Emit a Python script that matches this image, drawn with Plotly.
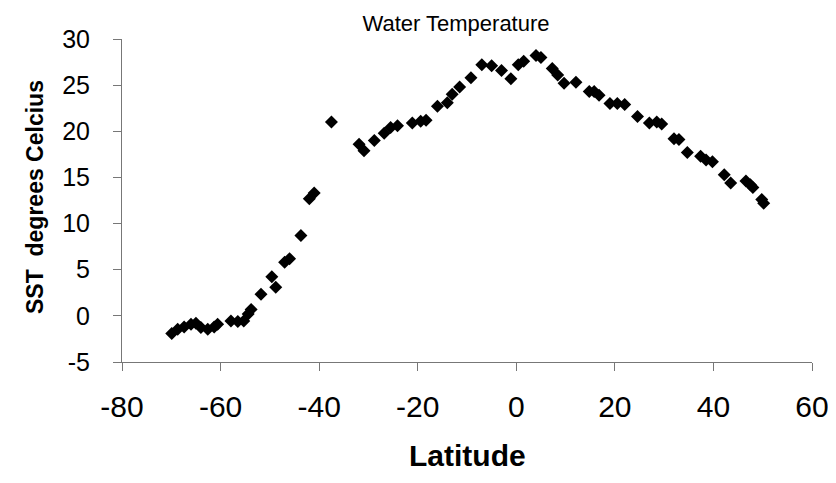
import plotly.graph_objects as go

latitude = [-69.9, -68.7, -67.4, -66.0, -65.0, -64.0, -62.6, -61.3, -60.6,
            -57.9, -56.5, -55.3, -54.4, -53.8, -51.8, -49.6, -48.8, -47.0, -46.0,
            -43.7, -42.0, -41.0, -37.5,
            -31.9, -30.9, -28.8, -26.8, -25.5, -24.1, -21.1, -19.4, -18.3, -16.0,
            -14.0, -13.0, -11.5, -9.2, -7.0, -5.0, -3.0, -1.1, 0.4, 1.5, 4.0, 5.0,
            7.3, 8.4, 9.7, 12.1, 14.8, 15.8, 16.8, 19.0, 20.5, 22.0, 24.6, 27.0,
            28.5, 29.5, 32.0, 33.0, 34.7, 37.4, 38.5, 39.8, 42.2, 43.5, 46.6, 47.5,
            48.0, 49.8, 50.2]
sst = [-1.9, -1.45, -1.2, -0.9, -0.8, -1.25, -1.45, -1.2, -0.9,
       -0.55, -0.6, -0.55, 0.2, 0.7, 2.35, 4.25, 3.1, 5.8, 6.2,
       8.7, 12.7, 13.3, 21.0,
       18.6, 17.9, 19.0, 19.8, 20.4, 20.6, 20.9, 21.1, 21.2, 22.7,
       23.1, 24.0, 24.8, 25.8, 27.2, 27.1, 26.6, 25.7, 27.2, 27.6, 28.2, 28.0,
       26.8, 26.1, 25.2, 25.3, 24.3, 24.3, 23.9, 23.0, 23.0, 22.9, 21.6, 20.9,
       21.0, 20.8, 19.2, 19.1, 17.7, 17.3, 16.9, 16.7, 15.3, 14.4, 14.6, 14.2,
       13.9, 12.6, 12.2]

x_ticks = [-80, -60, -40, -20, 0, 20, 40, 60]
y_ticks = [-5, 0, 5, 10, 15, 20, 25, 30]

FONT = "Liberation Sans, Arial, sans-serif"

# page has an 8px body margin: figure origin is at (8, 8) in the window
W, H = 828, 475
L, T, PW, PH = 114, 31, 690, 323

fig = go.Figure()
fig.add_trace(go.Scatter(
    x=latitude, y=sst, mode="markers",
    marker=dict(symbol="diamond", size=10, color="black",
                line=dict(width=0)),
    showlegend=False,
))

axis_common = dict(
    showgrid=False, zeroline=False, showline=True, automargin=False,
    linecolor="#777777", linewidth=1,
    ticks="outside", ticklen=8, tickcolor="#777777", tickwidth=1,
)

fig.update_xaxes(range=[-80, 60], tickvals=x_ticks,
                 ticktext=[str(v) for v in x_ticks],
                 tickfont=dict(family=FONT, size=30, color="black"),
                 ticklabelstandoff=10, **axis_common)
fig.update_yaxes(range=[-5, 30], tickvals=y_ticks,
                 ticktext=[str(v) for v in y_ticks],
                 tickfont=dict(family=FONT, size=25, color="black"),
                 ticklabelstandoff=18, **axis_common)

fig.update_layout(
    width=W, height=H,
    margin=dict(l=L, r=W - L - PW, t=T, b=H - T - PH),
    paper_bgcolor="white", plot_bgcolor="white",
    title=dict(text="Water Temperature", x=(456 - 8 - L) / PW, xref="paper",
               xanchor="center", y=1 - (23 - 8) / H, yref="container",
               yanchor="middle",
               font=dict(family=FONT, size=22, color="black")),
    annotations=[
        dict(text="<b>SST  degrees Celcius</b>", textangle=-90,
             xref="paper", yref="paper", x=(35 - 8 - L) / PW,
             y=(T + PH - (197 - 8)) / PH,
             xanchor="center", yanchor="middle", showarrow=False,
             font=dict(family=FONT, size=23, color="black")),
        dict(text="<b>Latitude</b>",
             xref="paper", yref="paper", x=(467 - 8 - L) / PW,
             y=(T + PH - (455 - 8)) / PH,
             xanchor="center", yanchor="middle", showarrow=False,
             font=dict(family=FONT, size=30, color="black")),
    ],
)

fig.write_html("out.html")
